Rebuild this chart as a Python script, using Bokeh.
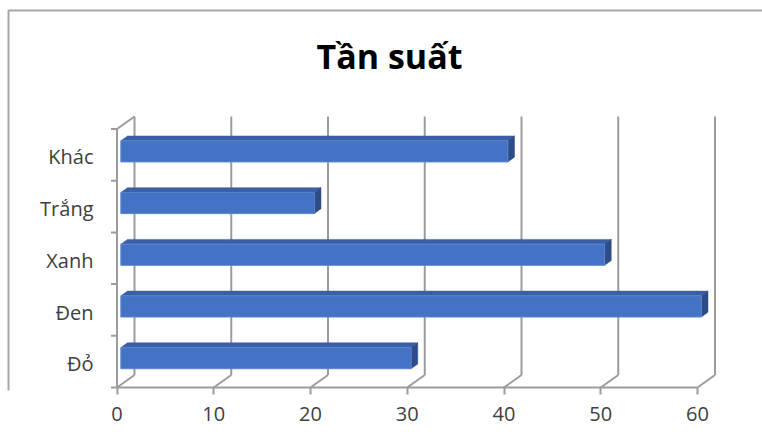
from bokeh.plotting import figure
from bokeh.models import Range1d, FixedTicker, ColumnDataSource
from bokeh.core.properties import value
from bokeh.embed import file_html
from bokeh.resources import INLINE

# ---- data ----
categories = ["Đỏ", "Đen", "Xanh", "Trắng", "Khác"]
values = [30, 60, 50, 20, 40]
x_ticks = [0, 10, 20, 30, 40, 50, 60]
title_text = "Tần suất"

# ---- geometry / style constants ----
W, H = 762, 443
FRAME_H = 390            # frame occupies px rows 0..390
X0_PX, X60_PX = 116.5, 697.0
KX = (X60_PX - X0_PX) / 60.0       # px per value unit
FLOOR_PX = 387.0
KY = 51.7                           # px per category unit
DX = 17.5 / KX                      # depth offset (value units)
DY = 12.5 / KY                      # depth offset (category units)
F0, F1 = 0.22, 0.60                 # bar depth span (fraction of depth)
B0, B1 = 0.31, 0.72                 # bar band span
GRID = "#9C9C9C"
FONT = "Open Sans"

def px2x(px):
    return (px - X0_PX) / KX

def py2y(py):
    return (FLOOR_PX - py) / KY

n = len(categories)
vmax = x_ticks[-1]

p = figure(width=W, height=H, output_backend="svg", toolbar_location=None,
           x_range=Range1d(px2x(0), px2x(W)),
           y_range=Range1d(py2y(FRAME_H), py2y(0)),
           y_axis_location=None, x_axis_location="below",
           min_border_left=0, min_border_right=0, min_border_top=0,
           min_border_bottom=H - FRAME_H)
p.title.visible = False
p.grid.visible = False
p.outline_line_color = None
p.background_fill_color = "white"
p.border_fill_color = "white"

# chart border (left and top edges visible)
p.line([px2x(8), px2x(8), px2x(W + 5)], [py2y(FRAME_H + 5), py2y(10), py2y(10)],
       line_color="#A6A6A6", line_width=2)

# back wall gridlines
p.segment(x0=[t + DX for t in x_ticks], y0=[DY] * len(x_ticks),
          x1=[t + DX for t in x_ticks], y1=[n + DY] * len(x_ticks),
          line_color=GRID, line_width=2)
# floor diagonals
p.segment(x0=x_ticks, y0=[0] * len(x_ticks),
          x1=[t + DX for t in x_ticks], y1=[DY] * len(x_ticks),
          line_color=GRID, line_width=2)
# floor front line
p.line([0, vmax], [0, 0], line_color=GRID, line_width=2)
# left wall front edge + top diagonal
p.line([0, 0, DX], [0, n, n + DY], line_color=GRID, line_width=2)
# left wall ticks at band boundaries
bounds = list(range(n + 1))
p.segment(x0=[px2x(X0_PX - 6)] * len(bounds), y0=bounds,
          x1=[0] * len(bounds), y1=bounds, line_color=GRID, line_width=2)

# bars (3D): front, top, side faces
fx, fy, tx, ty, sx, sy = [], [], [], [], [], []
for i, v in enumerate(values):
    ox0, oy0 = F0 * DX, F0 * DY
    ox1, oy1 = F1 * DX, F1 * DY
    yb, yt = i + B0, i + B1
    fx.append([ox0, v + ox0, v + ox0, ox0])
    fy.append([yb + oy0, yb + oy0, yt + oy0, yt + oy0])
    tx.append([ox0, v + ox0, v + ox1, ox1])
    ty.append([yt + oy0, yt + oy0, yt + oy1, yt + oy1])
    sx.append([v + ox0, v + ox1, v + ox1, v + ox0])
    sy.append([yb + oy0, yb + oy1, yt + oy1, yt + oy0])
p.patches(tx, ty, fill_color="#3A5FA6", line_color="#3A5FA6", line_width=0.5)
p.patches(sx, sy, fill_color="#2E4D88", line_color="#2E4D88", line_width=0.5)
p.patches(fx, fy, fill_color="#4472C4", line_color="#5A84CC", line_width=1)

# category labels
lab = ColumnDataSource(dict(x=[px2x(93)] * n,
                            y=[i + 0.5 - 0.04 for i in range(n)],
                            t=categories))
p.text(x="x", y="y", text="t", source=lab, text_align="right",
       text_baseline="middle", text_font=value(FONT), text_font_size="20px",
       text_color="#404040")

# title
ttl = ColumnDataSource(dict(x=[px2x(389)], y=[py2y(55)], t=[title_text]))
p.text(x="x", y="y", text="t", source=ttl, text_align="center",
       text_baseline="middle", text_font=value(FONT), text_font_size="34px",
       text_font_style="bold", text_color="#000000")

# x axis
ax = p.xaxis[0]
ax.ticker = FixedTicker(ticks=x_ticks)
ax.axis_line_color = None
ax.major_tick_line_color = GRID
ax.major_tick_line_width = 2
ax.major_tick_in = 3
ax.major_tick_out = 4
ax.minor_tick_line_color = None
ax.major_label_text_font = FONT
ax.major_label_text_font_size = "20px"
ax.major_label_text_color = "#404040"
ax.major_label_standoff = 12

open("out.html", "w").write(file_html(p, INLINE))
